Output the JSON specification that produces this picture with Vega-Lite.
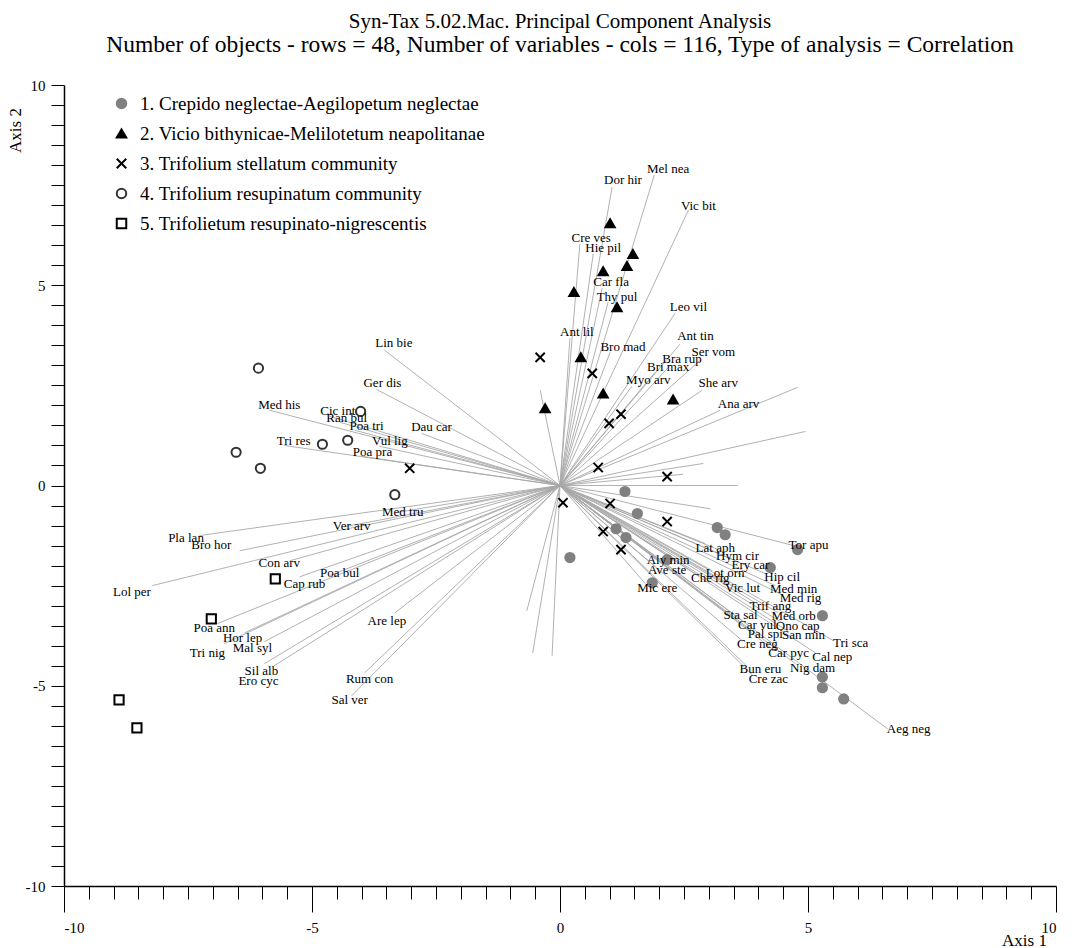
{
  "$schema": "https://vega.github.io/schema/vega-lite/v6.json",
  "width": 992,
  "height": 801,
  "autosize": {"type": "none"},
  "padding": {"left": 64, "top": 85, "right": 16, "bottom": 62},
  "background": "white",
  "title": {
    "text": "Syn-Tax 5.02.Mac. Principal Component Analysis",
    "subtitle": "Number of objects - rows = 48, Number of variables - cols = 116, Type of analysis = Correlation",
    "font": "Liberation Serif",
    "subtitleFont": "Liberation Serif",
    "fontSize": 21,
    "subtitleFontSize": 23.5,
    "fontWeight": "normal",
    "color": "black",
    "subtitleColor": "black",
    "anchor": "middle",
    "offset": 22,
    "subtitlePadding": 1
  },
  "config": {
    "view": {"stroke": null},
    "font": "Liberation Serif",
    "axis": {"grid": false, "domainColor": "black", "tickColor": "black", "labelColor": "black", "titleColor": "black", "labelFont": "Liberation Serif", "titleFont": "Liberation Serif", "titleFontWeight": "normal", "labelFontSize": 15, "titleFontSize": 17}
  },
  "datasets": {
    "samples": [
      {"g": "1. Crepido neglectae-Aegilopetum neglectae", "x": 1.31, "y": -0.15},
      {"g": "1. Crepido neglectae-Aegilopetum neglectae", "x": 1.56, "y": -0.70},
      {"g": "1. Crepido neglectae-Aegilopetum neglectae", "x": 1.13, "y": -1.08},
      {"g": "1. Crepido neglectae-Aegilopetum neglectae", "x": 1.33, "y": -1.30},
      {"g": "1. Crepido neglectae-Aegilopetum neglectae", "x": 0.20, "y": -1.80},
      {"g": "1. Crepido neglectae-Aegilopetum neglectae", "x": 1.86, "y": -2.43},
      {"g": "1. Crepido neglectae-Aegilopetum neglectae", "x": 2.16, "y": -1.85},
      {"g": "1. Crepido neglectae-Aegilopetum neglectae", "x": 3.17, "y": -1.05},
      {"g": "1. Crepido neglectae-Aegilopetum neglectae", "x": 3.33, "y": -1.23},
      {"g": "1. Crepido neglectae-Aegilopetum neglectae", "x": 4.24, "y": -2.05},
      {"g": "1. Crepido neglectae-Aegilopetum neglectae", "x": 4.79, "y": -1.60},
      {"g": "1. Crepido neglectae-Aegilopetum neglectae", "x": 5.29, "y": -3.25},
      {"g": "1. Crepido neglectae-Aegilopetum neglectae", "x": 5.29, "y": -4.78},
      {"g": "1. Crepido neglectae-Aegilopetum neglectae", "x": 5.29, "y": -5.05},
      {"g": "1. Crepido neglectae-Aegilopetum neglectae", "x": 5.72, "y": -5.33},
      {"g": "2. Vicio bithynicae-Melilotetum neapolitanae", "x": 1.01, "y": 6.55},
      {"g": "2. Vicio bithynicae-Melilotetum neapolitanae", "x": 1.47, "y": 5.78},
      {"g": "2. Vicio bithynicae-Melilotetum neapolitanae", "x": 1.35, "y": 5.48},
      {"g": "2. Vicio bithynicae-Melilotetum neapolitanae", "x": 0.87, "y": 5.35},
      {"g": "2. Vicio bithynicae-Melilotetum neapolitanae", "x": 0.28, "y": 4.83},
      {"g": "2. Vicio bithynicae-Melilotetum neapolitanae", "x": 1.15, "y": 4.45},
      {"g": "2. Vicio bithynicae-Melilotetum neapolitanae", "x": 0.42, "y": 3.20},
      {"g": "2. Vicio bithynicae-Melilotetum neapolitanae", "x": 0.87, "y": 2.30},
      {"g": "2. Vicio bithynicae-Melilotetum neapolitanae", "x": -0.30, "y": 1.93},
      {"g": "2. Vicio bithynicae-Melilotetum neapolitanae", "x": 2.28, "y": 2.15},
      {"g": "3. Trifolium stellatum community", "x": -0.40, "y": 3.20},
      {"g": "3. Trifolium stellatum community", "x": 0.65, "y": 2.80},
      {"g": "3. Trifolium stellatum community", "x": 1.23, "y": 1.78},
      {"g": "3. Trifolium stellatum community", "x": 0.99, "y": 1.55},
      {"g": "3. Trifolium stellatum community", "x": -3.03, "y": 0.43},
      {"g": "3. Trifolium stellatum community", "x": 0.77, "y": 0.45},
      {"g": "3. Trifolium stellatum community", "x": 2.16, "y": 0.22},
      {"g": "3. Trifolium stellatum community", "x": 0.06, "y": -0.43},
      {"g": "3. Trifolium stellatum community", "x": 1.01, "y": -0.45},
      {"g": "3. Trifolium stellatum community", "x": 2.16, "y": -0.90},
      {"g": "3. Trifolium stellatum community", "x": 0.87, "y": -1.15},
      {"g": "3. Trifolium stellatum community", "x": 1.23, "y": -1.60},
      {"g": "4. Trifolium resupinatum community", "x": -6.08, "y": 2.93},
      {"g": "4. Trifolium resupinatum community", "x": -4.02, "y": 1.85},
      {"g": "4. Trifolium resupinatum community", "x": -4.28, "y": 1.13},
      {"g": "4. Trifolium resupinatum community", "x": -4.79, "y": 1.03},
      {"g": "4. Trifolium resupinatum community", "x": -6.53, "y": 0.83},
      {"g": "4. Trifolium resupinatum community", "x": -6.04, "y": 0.43},
      {"g": "4. Trifolium resupinatum community", "x": -3.33, "y": -0.23},
      {"g": "5. Trifolietum resupinato-nigrescentis", "x": -5.74, "y": -2.33},
      {"g": "5. Trifolietum resupinato-nigrescentis", "x": -7.03, "y": -3.33},
      {"g": "5. Trifolietum resupinato-nigrescentis", "x": -8.89, "y": -5.35},
      {"g": "5. Trifolietum resupinato-nigrescentis", "x": -8.53, "y": -6.05}
    ],
    "vectors": [
      {"n": "Dor hir", "x": 1.05, "y": 7.45, "lx": 1.27, "ly": 7.63},
      {"n": "Mel nea", "x": 1.90, "y": 7.75, "lx": 2.18, "ly": 7.90},
      {"n": "Vic bit", "x": 2.59, "y": 6.88, "lx": 2.79, "ly": 6.98},
      {"n": "Cre ves", "x": 0.40, "y": 6.03, "lx": 0.63, "ly": 6.18},
      {"n": "Hie pil", "x": 0.67, "y": 5.78, "lx": 0.87, "ly": 5.93},
      {"n": "Car fla", "x": 0.85, "y": 4.93, "lx": 1.03, "ly": 5.08},
      {"n": "Thy pul", "x": 0.97, "y": 4.58, "lx": 1.15, "ly": 4.70},
      {"n": "Leo vil", "x": 2.32, "y": 4.30, "lx": 2.59, "ly": 4.45},
      {"n": "Ant lil", "x": 0.20, "y": 3.68, "lx": 0.34, "ly": 3.83},
      {"n": "Bro mad", "x": 1.01, "y": 3.33, "lx": 1.27, "ly": 3.45},
      {"n": "Ant tin", "x": 2.42, "y": 3.53, "lx": 2.73, "ly": 3.73},
      {"n": "Ser vom", "x": 2.83, "y": 3.13, "lx": 3.09, "ly": 3.33},
      {"n": "Bra rup", "x": 2.22, "y": 3.00, "lx": 2.46, "ly": 3.15},
      {"n": "Bri max", "x": 1.92, "y": 2.83, "lx": 2.18, "ly": 2.95},
      {"n": "Myo arv", "x": 1.45, "y": 2.48, "lx": 1.78, "ly": 2.63},
      {"n": "She arv", "x": 2.87, "y": 2.38, "lx": 3.19, "ly": 2.55},
      {"n": "Ana arv", "x": 3.23, "y": 1.88, "lx": 3.60, "ly": 2.03},
      {"n": "Lin bie", "x": -3.54, "y": 3.38, "lx": -3.35, "ly": 3.55},
      {"n": "Ger dis", "x": -3.70, "y": 2.40, "lx": -3.58, "ly": 2.55},
      {"n": "Med his", "x": -5.86, "y": 1.88, "lx": -5.66, "ly": 2.00},
      {"n": "Cic int", "x": -4.65, "y": 1.73, "lx": -4.48, "ly": 1.85},
      {"n": "Ran bul", "x": -4.44, "y": 1.58, "lx": -4.30, "ly": 1.68},
      {"n": "Poa tri", "x": -4.14, "y": 1.38, "lx": -3.90, "ly": 1.48},
      {"n": "Dau car", "x": -2.79, "y": 1.30, "lx": -2.59, "ly": 1.45},
      {"n": "Tri res", "x": -5.56, "y": 1.00, "lx": -5.37, "ly": 1.10},
      {"n": "Vul lig", "x": -3.64, "y": 0.98, "lx": -3.43, "ly": 1.10},
      {"n": "Poa pra", "x": -4.00, "y": 0.73, "lx": -3.78, "ly": 0.83},
      {"n": "Med tru", "x": -3.33, "y": -0.68, "lx": -3.17, "ly": -0.65},
      {"n": "Ver arv", "x": -4.34, "y": -1.03, "lx": -4.20, "ly": -1.00},
      {"n": "Pla lan", "x": -7.27, "y": -1.25, "lx": -7.54, "ly": -1.30},
      {"n": "Bro hor", "x": -6.46, "y": -1.63, "lx": -7.03, "ly": -1.48},
      {"n": "Con arv", "x": -5.45, "y": -1.88, "lx": -5.66, "ly": -1.93},
      {"n": "Lol per", "x": -8.22, "y": -2.50, "lx": -8.63, "ly": -2.65},
      {"n": "Cap rub", "x": -5.25, "y": -2.28, "lx": -5.15, "ly": -2.45},
      {"n": "Poa bul", "x": -4.65, "y": -2.25, "lx": -4.44, "ly": -2.18},
      {"n": "Poa ann", "x": -6.91, "y": -3.45, "lx": -6.97, "ly": -3.55},
      {"n": "Hor lep", "x": -6.36, "y": -3.68, "lx": -6.40, "ly": -3.80},
      {"n": "Mal syl", "x": -5.96, "y": -3.90, "lx": -6.20, "ly": -4.05},
      {"n": "Tri nig", "x": -6.77, "y": -3.95, "lx": -7.11, "ly": -4.18},
      {"n": "Are lep", "x": -3.33, "y": -3.18, "lx": -3.49, "ly": -3.38},
      {"n": "Sil alb", "x": -5.96, "y": -4.45, "lx": -6.02, "ly": -4.63},
      {"n": "Ero cyc", "x": -5.76, "y": -4.50, "lx": -6.08, "ly": -4.88},
      {"n": "Rum con", "x": -3.94, "y": -4.68, "lx": -3.84, "ly": -4.83},
      {"n": "Sal ver", "x": -4.20, "y": -5.25, "lx": -4.24, "ly": -5.35},
      {"n": "Lat aph", "x": 2.93, "y": -1.45, "lx": 3.13, "ly": -1.55},
      {"n": "Hym cir", "x": 3.29, "y": -1.65, "lx": 3.58, "ly": -1.75},
      {"n": "Aly min", "x": 1.92, "y": -1.78, "lx": 2.18, "ly": -1.85},
      {"n": "Ery car", "x": 3.54, "y": -1.88, "lx": 3.84, "ly": -1.98},
      {"n": "Ave ste", "x": 1.92, "y": -2.03, "lx": 2.16, "ly": -2.10},
      {"n": "Lot orn", "x": 3.07, "y": -2.13, "lx": 3.33, "ly": -2.18},
      {"n": "Che rig", "x": 2.79, "y": -2.25, "lx": 3.03, "ly": -2.30},
      {"n": "Hip cil", "x": 4.14, "y": -2.20, "lx": 4.48, "ly": -2.28},
      {"n": "Mic ere", "x": 1.72, "y": -2.45, "lx": 1.96, "ly": -2.55},
      {"n": "Vic lut", "x": 3.39, "y": -2.48, "lx": 3.68, "ly": -2.55},
      {"n": "Med min", "x": 4.34, "y": -2.50, "lx": 4.71, "ly": -2.58},
      {"n": "Med rig", "x": 4.48, "y": -2.73, "lx": 4.85, "ly": -2.80},
      {"n": "Trif ang", "x": 3.94, "y": -2.93, "lx": 4.24, "ly": -3.00},
      {"n": "Sta sal", "x": 3.33, "y": -3.15, "lx": 3.64, "ly": -3.23},
      {"n": "Med orb", "x": 4.40, "y": -3.18, "lx": 4.71, "ly": -3.25},
      {"n": "Car vul", "x": 3.68, "y": -3.38, "lx": 3.98, "ly": -3.48},
      {"n": "Ono cap", "x": 4.48, "y": -3.43, "lx": 4.79, "ly": -3.50},
      {"n": "Pal spi", "x": 3.84, "y": -3.63, "lx": 4.14, "ly": -3.70},
      {"n": "San min", "x": 4.61, "y": -3.65, "lx": 4.91, "ly": -3.73},
      {"n": "Cre neg", "x": 3.68, "y": -3.88, "lx": 3.98, "ly": -3.95},
      {"n": "Car pyc", "x": 4.28, "y": -4.08, "lx": 4.61, "ly": -4.18},
      {"n": "Tor apu", "x": 4.71, "y": -1.50, "lx": 5.01, "ly": -1.48},
      {"n": "Tri sca", "x": 5.52, "y": -3.88, "lx": 5.86, "ly": -3.93},
      {"n": "Cal nep", "x": 5.15, "y": -4.18, "lx": 5.49, "ly": -4.28},
      {"n": "Nig dam", "x": 4.75, "y": -4.45, "lx": 5.09, "ly": -4.55},
      {"n": "Bun eru", "x": 3.74, "y": -4.48, "lx": 4.04, "ly": -4.58},
      {"n": "Cre zac", "x": 3.88, "y": -4.73, "lx": 4.20, "ly": -4.83},
      {"n": "Aeg neg", "x": 6.61, "y": -6.08, "lx": 7.03, "ly": -6.08},
      {"x": 4.79, "y": 2.45},
      {"x": 4.95, "y": 1.35},
      {"x": 2.89, "y": 0.55},
      {"x": 2.48, "y": 0.28},
      {"x": 3.58, "y": 0.00},
      {"x": 3.03, "y": -0.58},
      {"x": -0.40, "y": 2.38},
      {"x": -0.67, "y": -3.13},
      {"x": -0.55, "y": -4.18},
      {"x": -0.16, "y": -4.25}
    ]
  },
  "layer": [
    {
      "data": {"name": "vectors"},
      "mark": {"type": "rule", "color": "#a8a8a8", "strokeWidth": 0.9},
      "encoding": {
        "x": {"field": "x", "type": "quantitative", "scale": {"domain": [-10, 10], "nice": false, "zero": false},
          "axis": {
            "values": [-10,-9.5,-9,-8.5,-8,-7.5,-7,-6.5,-6,-5.5,-5,-4.5,-4,-3.5,-3,-2.5,-2,-1.5,-1,-0.5,0,0.5,1,1.5,2,2.5,3,3.5,4,4.5,5,5.5,6,6.5,7,7.5,8,8.5,9,9.5,10],
            "tickCount": 100,
            "labelExpr": "datum.value % 5 === 0 ? datum.value : ''",
            "labelOverlap": false,
            "tickSize": {"condition": {"test": "datum.value % 5 === 0", "value": 26}, "value": 13},
            "labelPadding": 8,
            "domainWidth": 1.5,
            "title": "Axis 1",
            "titleX": 960,
            "titleY": 54,
            "titleAlign": "center",
            "titleBaseline": "middle"
          }},
        "y": {"field": "y", "type": "quantitative", "scale": {"domain": [-10, 10], "nice": false, "zero": false},
          "axis": {
            "values": [-10,-9.5,-9,-8.5,-8,-7.5,-7,-6.5,-6,-5.5,-5,-4.5,-4,-3.5,-3,-2.5,-2,-1.5,-1,-0.5,0,0.5,1,1.5,2,2.5,3,3.5,4,4.5,5,5.5,6,6.5,7,7.5,8,8.5,9,9.5,10],
            "tickCount": 100,
            "labelExpr": "datum.value % 5 === 0 ? datum.value : ''",
            "labelOverlap": false,
            "tickSize": 13,
            "labelPadding": 6,
            "domainWidth": 1.5,
            "title": "Axis 2",
            "titleAngle": -90,
            "titleX": -49,
            "titleY": 45,
            "titleAlign": "center",
            "titleBaseline": "middle"
          }},
        "x2": {"datum": 0},
        "y2": {"datum": 0}
      }
    },
    {
      "data": {"name": "samples"},
      "mark": {"type": "point", "strokeWidth": 2, "opacity": 1},
      "encoding": {
        "x": {"field": "x", "type": "quantitative"},
        "y": {"field": "y", "type": "quantitative"},
        "shape": {"field": "g", "type": "nominal",
          "scale": {"range": ["circle", "triangle-up", "M-1,-1L1,1M-1,1L1,-1", "circle", "square"]},
          "legend": {"title": null, "orient": "none", "legendX": 48, "legendY": 9, "labelFont": "Liberation Serif", "labelFontSize": 19, "labelColor": "black", "symbolSize": 90, "symbolStrokeWidth": 2, "rowPadding": 10, "labelOffset": 9, "labelLimit": 600}},
        "fill": {"field": "g", "type": "nominal",
          "scale": {"range": ["#808080", "black", "transparent", "white", "white"]},
          "legend": {"title": null, "orient": "none", "legendX": 48, "legendY": 9, "labelFont": "Liberation Serif", "labelFontSize": 19, "labelColor": "black", "symbolSize": 90, "symbolStrokeWidth": 2, "rowPadding": 10, "labelOffset": 9, "labelLimit": 600}},
        "stroke": {"field": "g", "type": "nominal",
          "scale": {"range": ["#808080", "black", "black", "#333333", "black"]},
          "legend": {"title": null, "orient": "none", "legendX": 48, "legendY": 9, "labelFont": "Liberation Serif", "labelFontSize": 19, "labelColor": "black", "symbolSize": 90, "symbolStrokeWidth": 2, "rowPadding": 10, "labelOffset": 9, "labelLimit": 600}},
        "size": {"value": 85}
      }
    },
    {
      "data": {"name": "vectors"},
      "transform": [{"filter": "isValid(datum.n)"}],
      "mark": {"type": "text", "font": "Liberation Serif", "fontSize": 13, "color": "black", "align": "center", "baseline": "middle"},
      "encoding": {
        "x": {"field": "lx", "type": "quantitative"},
        "y": {"field": "ly", "type": "quantitative"},
        "text": {"field": "n"}
      }
    }
  ]
}
